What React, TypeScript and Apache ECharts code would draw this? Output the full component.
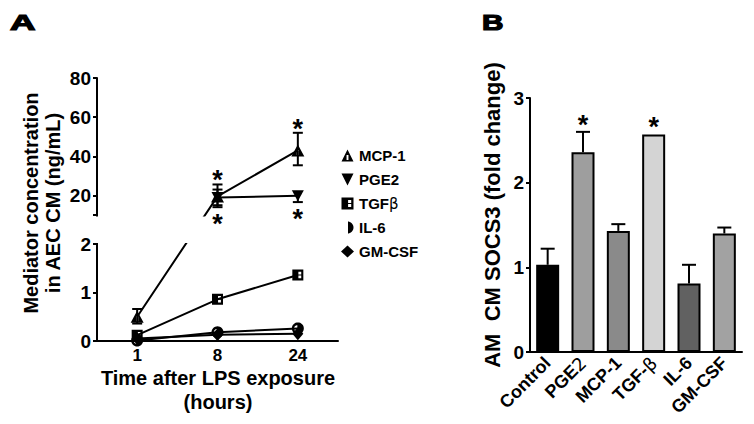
import React, { useEffect, useRef } from 'react';
import * as echarts from 'echarts';

// ---------- Panel A data ----------
const timeLabels = ['1', '8', '24'];
const seriesNames = ['MCP-1', 'PGE2', 'TGFβ', 'IL-6', 'GM-CSF'];
const mcp1 = [0.5, 19.5, 43];
const mcp1Low = [0.36, 15, 35.4];
const mcp1High = [0.66, 25.6, 52];
const mcp1Stars = ['', 'up', 'up'];
const pge2 = [null, 19.0, 19.8];
const pge2Low = [null, 14, 16.6];
const pge2High = [null, 23, 19.8];
const pge2Stars = ['', 'down', 'down'];
const tgfb = [0.12, 0.86, 1.36];
const il6 = [0.01, 0.18, 0.26];
const gmcsf = [0.05, 0.13, 0.15];
const yLabelsA = [0, 1, 2, 20, 40, 60, 80];
const yTicksA = [0, 1, 2, 10, 20, 40, 60, 80];

// ---------- Panel B data ----------
const bCategories = ['Control', 'PGE2', 'MCP-1', 'TGF-β', 'IL-6', 'GM-CSF'];
const bValues = [1.03, 2.36, 1.43, 2.57, 0.81, 1.4];
const bErrors = [0.19, 0.24, 0.08, 0, 0.22, 0.07];
const bStars = [false, true, false, true, false, false];
const bColors = ['#000000', '#9e9e9e', '#8a8a8a', '#d4d4d4', '#616161', '#a2a2a2'];

// ---------- broken axis mapping (panel A) ----------
const LOWER_PX = 97, GAP_PX = 29, UPPER_PX = 137;
const LOWER_MAX = 2, UPPER_MIN = 10, UPPER_MAX = 80;
const PX_PER_UNIT = LOWER_PX / LOWER_MAX;
const GAP_D = GAP_PX / PX_PER_UNIT;
const K = UPPER_PX / (UPPER_MAX - UPPER_MIN) / PX_PER_UNIT;
const toD = (v: number | null) =>
  v == null ? null : v <= LOWER_MAX ? v : LOWER_MAX + GAP_D + (v - UPPER_MIN) * K;
const fromD = (d: number) =>
  d <= LOWER_MAX + 1e-6 ? d : UPPER_MIN + (d - LOWER_MAX - GAP_D) / K;

const FONT = '"Liberation Sans", Arial, Helvetica, sans-serif';

// symbol shapes
function arcPts(cx: number, cy: number, r: number, a0: number, a1: number, n: number) {
  const pts: string[] = [];
  for (let i = 0; i <= n; i++) {
    const a = ((a0 + ((a1 - a0) * i) / n) * Math.PI) / 180;
    pts.push((cx + r * Math.cos(a)).toFixed(3) + ' ' + (cy + r * Math.sin(a)).toFixed(3));
  }
  return pts;
}
const outerCircle = arcPts(5, 5, 5, -90, 270, 32);
const leftHole = arcPts(4.6, 5, 2.7, -90, -270, 16);
const ICON_MCP = 'path://M5 0L10 10L0 10Z M4.2 4.6L4.2 8.8L5.8 8.8L5.8 4.6Z';
const ICON_PGE = 'path://M0 0L10 0L5 10Z';
const ICON_TGF = 'path://M0 0L10 0L10 10L0 10Z M5.5 2L5.5 4.5L8.1 4.5L8.1 2Z M5.5 5.5L5.5 8L8.1 8L8.1 5.5Z';
const ICON_IL6 =
  'path://M' + outerCircle.join('L') + 'Z M' + leftHole.join('L') + 'Z';
const ICON_GM = 'diamond';
const icons = [ICON_MCP, ICON_PGE, ICON_TGF, ICON_IL6, ICON_GM];
const symSizes: any[] = [[13, 12], [12, 11], [11, 11], [12, 12], [11, 13]];

function errSeriesA(vals: any[], lows: any[], highs: any[]) {
  const data: any[] = [];
  vals.forEach((v, i) => {
    if (v == null) return;
    data.push([i, toD(v), toD(lows[i]), toD(highs[i])]);
  });
  return {
    type: 'custom',
    xAxisIndex: 0,
    yAxisIndex: 0,
    z: 1,
    silent: true,
    data,
    renderItem: (params: any, api: any) => {
      const x = api.value(0);
      const c = api.coord([x, api.value(1)]);
      const lo = api.coord([x, api.value(2)]);
      const hi = api.coord([x, api.value(3)]);
      const cap = 5;
      const st = { stroke: '#000', lineWidth: 2 };
      const ch: any[] = [];
      if (Math.abs(hi[1] - c[1]) > 0.5) {
        ch.push({ type: 'line', shape: { x1: c[0], y1: c[1], x2: c[0], y2: hi[1] }, style: st });
        ch.push({ type: 'line', shape: { x1: c[0] - cap, y1: hi[1], x2: c[0] + cap, y2: hi[1] }, style: st });
      }
      if (Math.abs(lo[1] - c[1]) > 0.5) {
        ch.push({ type: 'line', shape: { x1: c[0], y1: c[1], x2: c[0], y2: lo[1] }, style: st });
        ch.push({ type: 'line', shape: { x1: c[0] - cap, y1: lo[1], x2: c[0] + cap, y2: lo[1] }, style: st });
      }
      return { type: 'group', children: ch };
    },
  };
}

function starText(x: number, y: number) {
  return {
    type: 'text',
    x,
    y,
    style: {
      text: '*',
      fill: '#000',
      font: 'bold 27px ' + FONT,
      align: 'center',
      verticalAlign: 'middle',
      textAlign: 'center',
      textVerticalAlign: 'middle',
    },
  };
}

function starSeriesA(lows: any[], highs: any[], stars: string[]) {
  const data: any[] = [];
  stars.forEach((s, i) => {
    if (!s) return;
    data.push([i, s === 'up' ? toD(highs[i]) : toD(lows[i]), s === 'up' ? -1 : 1]);
  });
  return {
    type: 'custom',
    xAxisIndex: 0,
    yAxisIndex: 0,
    z: 100,
    silent: true,
    data,
    renderItem: (params: any, api: any) => {
      const p = api.coord([api.value(0), api.value(1)]);
      const dir = api.value(2);
      return starText(p[0], p[1] + (dir < 0 ? -10 : 11) + 6);
    },
  };
}

export default function App() {
  const ref = useRef<HTMLDivElement>(null);
  useEffect(() => {
    if (!ref.current) return;
    const chart = echarts.init(ref.current, null, { renderer: 'svg', width: 754, height: 424 });
    const lineData = [mcp1, pge2, tgfb, il6, gmcsf];
    const lineSeries = seriesNames.map((name, i) => ({
      name,
      type: 'line',
      xAxisIndex: 0,
      yAxisIndex: 0,
      data: lineData[i].map((v) => toD(v as any)),
      symbol: icons[i],
      symbolSize: symSizes[i],
      showAllSymbol: true,
      connectNulls: false,
      lineStyle: { color: '#000', width: 2 },
      itemStyle: { color: '#000', borderWidth: 0 },
      z: 2,
    }));

    const labelStyle = { color: '#000', fontWeight: 'bold', fontFamily: FONT };

    const option: any = {
      animation: false,
      backgroundColor: '#fff',
      grid: [
        { left: 97, top: 78, width: 241, height: 263, outerBoundsMode: 'none', containLabel: false },
        { left: 530, top: 98, width: 212, height: 254, outerBoundsMode: 'none', containLabel: false },
      ],
      xAxis: [
        {
          gridIndex: 0,
          type: 'category',
          data: timeLabels,
          boundaryGap: true,
          axisLine: { lineStyle: { color: '#000', width: 2 } },
          axisTick: { alignWithLabel: true, length: 4, lineStyle: { color: '#000', width: 2 } },
          axisLabel: { ...labelStyle, fontSize: 17, margin: 6 },
        },
        {
          gridIndex: 1,
          type: 'category',
          data: bCategories,
          boundaryGap: true,
          axisLine: { lineStyle: { color: '#000', width: 2 } },
          axisTick: { alignWithLabel: true, length: 5, lineStyle: { color: '#000', width: 2 } },
          axisLabel: {
            ...labelStyle,
            fontSize: 18,
            rotate: 45,
            margin: 8,
            interval: 0,
            formatter: (v: string) =>
              v === 'PGE2' ? 'PGE{s|2}' : v === 'TGF-β' ? 'TGF-{s|β}' : v,
            rich: { s: { fontWeight: 'normal', fontSize: 18, fontFamily: '"DejaVu Sans", sans-serif', color: '#000' } },
          },
        },
      ],
      yAxis: [
        {
          gridIndex: 0,
          type: 'value',
          min: 0,
          max: toD(UPPER_MAX),
          splitLine: { show: false },
          axisLine: { show: true, lineStyle: { color: '#000', width: 2 } },
          axisTick: { show: true, length: 4, lineStyle: { color: '#000', width: 2 }, customValues: yTicksA.map(toD) },
          axisLabel: {
            ...labelStyle,
            fontSize: 19,
            margin: 6,
            customValues: yLabelsA.map(toD),
            formatter: (v: number) => String(Math.round(fromD(v))),
          },
        },
        {
          gridIndex: 1,
          type: 'value',
          min: 0,
          max: 3,
          interval: 1,
          splitLine: { show: false },
          axisLine: { show: true, lineStyle: { color: '#000', width: 2 } },
          axisTick: { show: true, length: 4, lineStyle: { color: '#000', width: 2 } },
          axisLabel: { ...labelStyle, fontSize: 19, margin: 6 },
        },
      ],
      legend: {
        orient: 'vertical',
        left: 336,
        top: 143,
        itemWidth: 13,
        itemHeight: 12,
        itemGap: 9,
        selectedMode: false,
        data: seriesNames.map((n, i) => ({ name: n, icon: icons[i], itemStyle: { color: '#000' } })),
        formatter: (n: string) => (n === 'TGFβ' ? 'TGF{g|β}' : n),
        textStyle: {
          ...labelStyle,
          fontSize: 15,
          rich: { g: { fontWeight: 'normal', fontSize: 15, fontFamily: '"DejaVu Sans", sans-serif', color: '#000' } },
        },
      },
      graphic: [
        { type: 'rect', z: 50, silent: true, shape: { x: 93, y: 216.5, width: 255, height: 26.5 }, style: { fill: '#fff' } },
        {
          type: 'text', x: 10, y: 11, scaleX: 1.6,
          style: { text: 'A', font: 'bold 22px ' + FONT, fill: '#000', stroke: '#000', lineWidth: 1.2, verticalAlign: 'top', textVerticalAlign: 'top' },
        },
        {
          type: 'text', x: 482, y: 11, scaleX: 1.35,
          style: { text: 'B', font: 'bold 22px ' + FONT, fill: '#000', stroke: '#000', lineWidth: 1.2, verticalAlign: 'top', textVerticalAlign: 'top' },
        },
        {
          type: 'text', x: 42, y: 203, rotation: Math.PI / 2,
          style: {
            text: 'Mediator concentration\nin AEC CM (ng/mL)', font: 'bold 20px ' + FONT, fill: '#000',
            align: 'center', verticalAlign: 'middle', textAlign: 'center', textVerticalAlign: 'middle', lineHeight: 22,
          },
        },
        {
          type: 'text', x: 218, y: 390,
          style: {
            text: 'Time after LPS exposure\n(hours)', font: 'bold 20px ' + FONT, fill: '#000',
            align: 'center', verticalAlign: 'middle', textAlign: 'center', textVerticalAlign: 'middle', lineHeight: 24,
          },
        },
        {
          type: 'text', x: 492, y: 215, rotation: Math.PI / 2,
          style: {
            text: 'AM  CM SOCS3 (fold change)', font: 'bold 22px ' + FONT, fill: '#000',
            align: 'center', verticalAlign: 'middle', textAlign: 'center', textVerticalAlign: 'middle',
          },
        },
      ],
      series: [
        ...lineSeries,
        errSeriesA(mcp1, mcp1Low, mcp1High),
        errSeriesA(pge2, pge2Low, pge2High),
        starSeriesA(mcp1Low, mcp1High, mcp1Stars),
        starSeriesA(pge2Low, pge2High, pge2Stars),
        {
          type: 'bar',
          xAxisIndex: 1,
          yAxisIndex: 1,
          barWidth: 23,
          z: 2,
          data: bValues.map((v, i) => ({ value: v, itemStyle: { color: bColors[i] } })),
          itemStyle: { borderColor: '#000', borderWidth: 2 },
        },
        {
          type: 'custom',
          xAxisIndex: 1,
          yAxisIndex: 1,
          z: 3,
          silent: true,
          data: bValues.map((v, i) => [i, v, v + bErrors[i]]),
          renderItem: (params: any, api: any) => {
            const x = api.value(0);
            const c = api.coord([x, api.value(1)]);
            const hi = api.coord([x, api.value(2)]);
            if (Math.abs(hi[1] - c[1]) < 0.5) return { type: 'group', children: [] };
            const st = { stroke: '#000', lineWidth: 2 };
            return {
              type: 'group',
              children: [
                { type: 'line', shape: { x1: c[0], y1: c[1], x2: c[0], y2: hi[1] }, style: st },
                { type: 'line', shape: { x1: c[0] - 7, y1: hi[1], x2: c[0] + 7, y2: hi[1] }, style: st },
              ],
            };
          },
        },
        {
          type: 'custom',
          xAxisIndex: 1,
          yAxisIndex: 1,
          z: 100,
          silent: true,
          data: bValues.map((v, i) => (bStars[i] ? [i, v + bErrors[i]] : null)).filter((d) => d),
          renderItem: (params: any, api: any) => {
            const p = api.coord([api.value(0), api.value(1)]);
            return starText(p[0], p[1] - 13 + 6);
          },
        },
      ],
    };
    chart.setOption(option);
    return () => chart.dispose();
  }, []);
  return (
    <div
      ref={ref}
      style={{ position: 'absolute', left: 0, top: 0, width: 754, height: 424, background: '#fff' }}
    />
  );
}
